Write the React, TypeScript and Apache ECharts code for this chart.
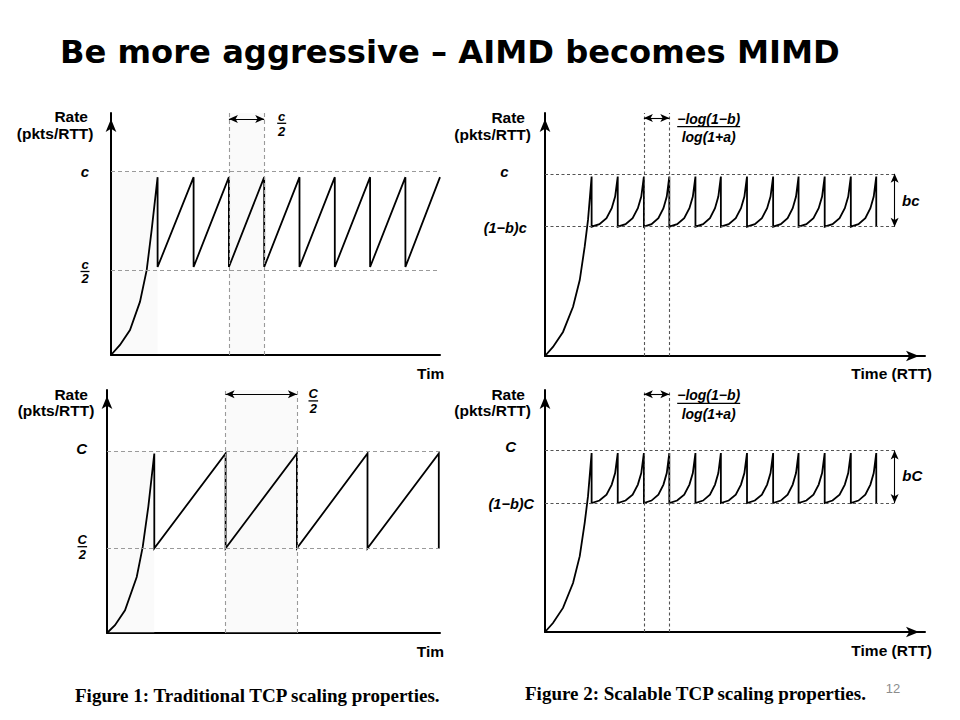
import React, { useEffect, useRef } from "react";
import * as echarts from "echarts";

// ---------------- data (rate in pkts/RTT, time in RTT) ----------------
// Figure 1, top: traditional TCP with capacity c = 100
const tcpSmallSlowStart: number[][] = [[0, 0], [12.7, 5.5], [26.9, 13.6], [41.1, 29.1], [50.6, 46.4], [57.6, 68.2], [66, 97]];
const tcpSmallPeakTimes: number[] = [66, 117, 167, 217, 267, 317, 367, 417];
const tcpSmallTailTime = 466;
const tcpSmallPeak = 97;
const tcpSmallTrough = 48;
const tcpSmallLevels: number[] = [100, 46]; // c, c/2
const tcpSmallMarkTimes: number[] = [167, 217];
const tcpSmallArrowRate = 128.7;

// Figure 1, bottom: traditional TCP with capacity C = 200
const tcpLargeSlowStart: number[][] = [[0, 0], [11.3, 8.5], [25.5, 24.9], [42.1, 61.5], [50.6, 94.5], [58.5, 138.5], [67, 197]];
const tcpLargePeakTimes: number[] = [67, 168, 269, 369, 470];
const tcpLargePeak = 197;
const tcpLargeTrough = 93;
const tcpLargeLevels: number[] = [200, 93]; // C, C/2
const tcpLargeMarkTimes: number[] = [168, 269];
const tcpLargeArrowRate = 262;

// Figure 2: scalable TCP (same period for both capacities)
const stcpPeakTimes: number[] = [66, 103, 140, 176, 213, 249, 286, 323, 359, 396, 433, 469];
// shape of one rising tooth: [fraction of period, fraction of rise]
const stcpToothShape: number[][] = [[0, 0], [0.3, 0.05], [0.57, 0.17], [0.77, 0.37], [0.9, 0.6], [1, 1]];
const stcpMarkTimes: number[] = [140, 176];
const stcpLevelEnd = 497;
const stcpBracketTime = 495;

const stcpSmallSlowStart: number[][] = [[0, 0], [11.3, 5.0], [25.5, 13.2], [39.7, 27.0], [49.2, 41.7], [56.2, 60.0], [60.9, 74.7], [66, 98.5]];
const stcpSmallPeak = 98.5;
const stcpSmallTrough = 71;
const stcpSmallLevels: number[] = [100, 71]; // c, (1-b)c
const stcpSmallArrowRate = 130.7;

const stcpLargeSlowStart: number[][] = [[0, 0], [11.3, 9.9], [25.5, 26.5], [39.7, 54.0], [49.2, 83.5], [56.2, 120.2], [60.9, 149.6], [66, 197]];
const stcpLargePeak = 197;
const stcpLargeTrough = 142;
const stcpLargeLevels: number[] = [200, 142]; // C, (1-b)C
const stcpLargeArrowRate = 261.7;

// axis extents
const xMaxes: number[] = [466, 538, 471.7, 538];
const yMaxes: number[] = [132, 133.4, 266.7, 266.5];

// ---------------- builders ----------------
function aimdPath(slow: number[][], peaks: number[], peak: number, trough: number, tail?: number) {
  const pts: number[][] = slow.map((p) => [p[0], p[1]]);
  peaks.forEach((t, i) => {
    pts.push([t, trough]);
    const next = i + 1 < peaks.length ? peaks[i + 1] : tail;
    if (next !== undefined) pts.push([next, peak]);
  });
  return pts;
}

function mimdPath(slow: number[][], peaks: number[], peak: number, trough: number) {
  const pts: number[][] = slow.map((p) => [p[0], p[1]]);
  peaks.forEach((t, i) => {
    pts.push([t, trough]);
    if (i + 1 < peaks.length) {
      const next = peaks[i + 1];
      stcpToothShape.slice(1).forEach(([f, h]) => {
        pts.push([t + f * (next - t), trough + h * (peak - trough)]);
      });
    }
  });
  return pts;
}

const FONT = '"Liberation Sans", Arial, Helvetica, sans-serif';

function text(t: string, x: number, y: number, size: number, opts: { italic?: boolean; align?: string; bold?: boolean; family?: string; fill?: string } = {}) {
  const weight = opts.bold === false ? "normal" : "bold";
  return {
    type: "text",
    x,
    y,
    silent: true,
    style: {
      text: t,
      fill: opts.fill || "#000",
      font: `${opts.italic ? "italic " : ""}${weight} ${size}px ${opts.family || FONT}`,
      align: opts.align || "center",
      verticalAlign: "middle",
    },
  };
}

function bar(x1: number, x2: number, y: number) {
  return { type: "line", silent: true, shape: { x1, y1: y, x2, y2: y }, style: { stroke: "#000", lineWidth: 1.3 } };
}

function frac(num: string, den: string, cx: number, yNum: number, yBar: number, yDen: number, halfW: number, size: number) {
  return [
    text(num, cx, yNum, size, { italic: true }),
    bar(cx - halfW, cx + halfW, yBar),
    text(den, cx, yDen, size, { italic: true }),
  ];
}

function seg(a: number[], b: number[]) {
  return [{ coord: a }, { coord: b }];
}

export default function App() {
  const ref = useRef<HTMLDivElement>(null);

  useEffect(() => {
    if (!ref.current) return;
    const chart = echarts.init(ref.current, undefined, { renderer: "svg" });

    const grids = [
      { left: 111, top: 113, width: 329, height: 242 },
      { left: 545, top: 113, width: 380, height: 243 },
      { left: 107, top: 390, width: 333, height: 243 },
      { left: 545, top: 390, width: 380, height: 242 },
    ];
    const xArrow = [false, true, false, true];

    const xAxis = grids.map((_, i) => ({
      type: "value",
      gridIndex: i,
      min: 0,
      max: xMaxes[i],
      axisLine: {
        show: true,
        onZero: false,
        lineStyle: { color: "#000", width: 2 },
        symbol: xArrow[i] ? ["none", "arrow"] : "none",
        symbolSize: [8, 13],
        symbolOffset: [0, -6],
      },
      axisTick: { show: false },
      axisLabel: { show: false },
      splitLine: { show: false },
    }));
    const yAxis = grids.map((_, i) => ({
      type: "value",
      gridIndex: i,
      min: 0,
      max: yMaxes[i],
      axisLine: {
        show: true,
        onZero: false,
        lineStyle: { color: "#000", width: 2 },
        symbol: ["none", "arrow"],
        symbolSize: [8, 13],
        symbolOffset: [0, -6],
      },
      axisTick: { show: false },
      axisLabel: { show: false },
      splitLine: { show: false },
    }));

    const paths = [
      aimdPath(tcpSmallSlowStart, tcpSmallPeakTimes, tcpSmallPeak, tcpSmallTrough, tcpSmallTailTime),
      mimdPath(stcpSmallSlowStart, stcpPeakTimes, stcpSmallPeak, stcpSmallTrough),
      aimdPath(tcpLargeSlowStart, tcpLargePeakTimes, tcpLargePeak, tcpLargeTrough),
      mimdPath(stcpLargeSlowStart, stcpPeakTimes, stcpLargePeak, stcpLargeTrough),
    ];
    const levels = [tcpSmallLevels, stcpSmallLevels, tcpLargeLevels, stcpLargeLevels];
    const levelEnds = [xMaxes[0], stcpLevelEnd, xMaxes[2], stcpLevelEnd];
    const markTimes = [tcpSmallMarkTimes, stcpMarkTimes, tcpLargeMarkTimes, stcpMarkTimes];
    const arrowRates = [tcpSmallArrowRate, stcpSmallArrowRate, tcpLargeArrowRate, stcpLargeArrowRate];
    const dashColor = ["#9a9a9a", "#555", "#9a9a9a", "#555"];
    const dashType = [[4, 3], [3, 2.5], [4, 3], [3, 2.5]];
    const firstPeaks = [tcpSmallPeakTimes[0], 0, tcpLargePeakTimes[0], 0];

    const series: any[] = [];
    grids.forEach((_, i) => {
      const dashData: any[] = [];
      levels[i].forEach((lv) => dashData.push(seg([0, lv], [levelEnds[i], lv])));
      markTimes[i].forEach((t) => dashData.push(seg([t, 0], [t, yMaxes[i]])));
      const isLeft = i % 2 === 0;
      series.push({
        type: "line",
        xAxisIndex: i,
        yAxisIndex: i,
        data: paths[i],
        symbol: "none",
        silent: true,
        z: 3,
        lineStyle: { color: "#000", width: 1.8, join: "miter" },
        markLine: {
          silent: true,
          symbol: "none",
          label: { show: false },
          emphasis: { disabled: true },
          lineStyle: { type: dashType[i], color: dashColor[i], width: 1.1 },
          data: dashData,
        },
        markArea: isLeft
          ? {
              silent: true,
              itemStyle: { color: "#fafafa" },
              data: [
                seg([1.5, 0.8], [firstPeaks[i], levels[i][0]]),
                seg([markTimes[i][0], 0.8], [markTimes[i][1], yMaxes[i]]),
              ],
            }
          : undefined,
      });
      const arrows: any[] = [seg([markTimes[i][0], arrowRates[i]], [markTimes[i][1], arrowRates[i]])];
      if (!isLeft) arrows.push(seg([stcpBracketTime, levels[i][1]], [stcpBracketTime, levels[i][0]]));
      series.push({
        type: "line",
        xAxisIndex: i,
        yAxisIndex: i,
        data: [],
        symbol: "none",
        silent: true,
        z: 4,
        markLine: {
          silent: true,
          symbol: ["arrow", "arrow"],
          symbolSize: [6, 9],
          label: { show: false },
          emphasis: { disabled: true },
          lineStyle: { type: "solid", color: "#000", width: 1.1 },
          data: arrows,
        },
      });
    });

    const graphic: any[] = [
      text("Be more aggressive \u2013 AIMD becomes MIMD", 60, 52, 32.2, { align: "left", family: '"DejaVu Sans", Verdana, sans-serif' }),
      // panel 1
      text("Rate", 88, 116, 15.5, { align: "right" }),
      text("(pkts/RTT)", 93.5, 133.3, 15.5, { align: "right" }),
      text("c", 85, 171, 15, { italic: true }),
      ...frac("c", "2", 85, 264, 271.5, 278.8, 4.5, 13),
      ...frac("c", "2", 281.7, 116.3, 123.3, 131, 4.5, 13),
      text("Tim", 417, 373.3, 15.5, { align: "left" }),
      // panel 2
      text("Rate", 525, 117.3, 15.5, { align: "right" }),
      text("(pkts/RTT)", 531, 134.3, 15.5, { align: "right" }),
      text("c", 504.3, 171.7, 15, { italic: true }),
      text("(1\u2212b)c", 505.2, 227.7, 14.5, { italic: true }),
      ...frac("\u2212log(1\u2212b)", "log(1+a)", 708.7, 119, 126.7, 137, 31.5, 14),
      text("bc", 910.8, 200, 15, { italic: true }),
      text("Time (RTT)", 891.7, 373.3, 15.5),
      // panel 3
      text("Rate", 88, 394, 15.5, { align: "right" }),
      text("(pkts/RTT)", 94.3, 410, 15.5, { align: "right" }),
      text("C", 81.7, 448.3, 15, { italic: true }),
      ...frac("C", "2", 82.3, 539, 546.7, 554.5, 4.8, 13),
      ...frac("C", "2", 313.3, 393.8, 400.9, 408.8, 4.8, 13),
      text("Tim", 416.7, 651, 15.5, { align: "left" }),
      // panel 4
      text("Rate", 525, 394.3, 15.5, { align: "right" }),
      text("(pkts/RTT)", 531, 410, 15.5, { align: "right" }),
      text("C", 510.7, 446.7, 15, { italic: true }),
      text("(1\u2212b)C", 511.3, 504.3, 14.5, { italic: true }),
      ...frac("\u2212log(1\u2212b)", "log(1+a)", 708.7, 395, 403.3, 413.6, 31.5, 14),
      text("bC", 912.3, 475, 15, { italic: true }),
      text("Time (RTT)", 891.7, 650, 15.5),
      // captions
      text("Figure 1: Traditional TCP scaling properties.", 75, 695, 19, { align: "left", family: '"Liberation Serif", "Times New Roman", serif' }),
      text("Figure 2: Scalable TCP scaling properties.", 525, 693, 19, { align: "left", family: '"Liberation Serif", "Times New Roman", serif' }),
      text("12", 893, 688, 13, { bold: false, fill: "#8c8c8c" }),
    ];

    chart.setOption({
      animation: false,
      backgroundColor: "#fff",
      grid: grids.map((g) => ({ ...g, containLabel: false })),
      xAxis,
      yAxis,
      series,
      graphic,
    });

    return () => chart.dispose();
  }, []);

  return (
    <div
      ref={ref}
      style={{ position: "fixed", left: 0, top: 0, width: 960, height: 720, background: "#fff" }}
    />
  );
}
